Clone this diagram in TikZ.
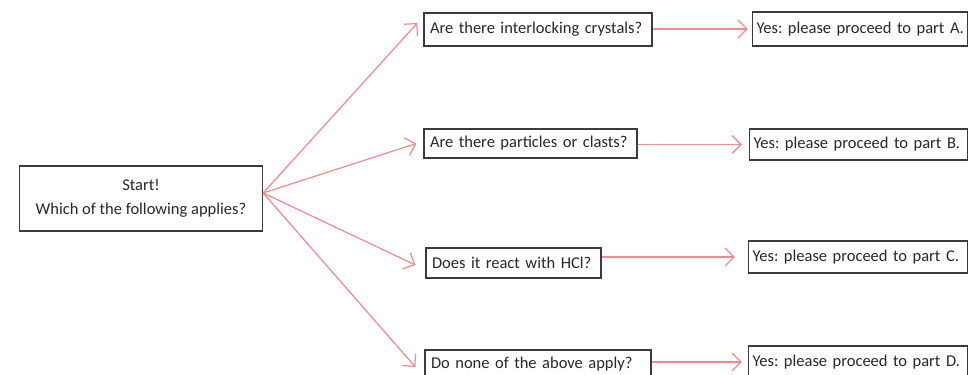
\documentclass[tikz,border=0pt]{standalone}
\usepackage{fontspec}
\setmainfont{Carlito}
\usetikzlibrary{arrows.meta,calc}
\definecolor{arrc}{RGB}{242,138,140}
\definecolor{boxc}{RGB}{60,60,60}
\definecolor{txtc}{RGB}{40,40,40}
\frenchspacing
\tikzset{
  box/.style={draw=boxc, line width=1.3pt, text=txtc, inner xsep=6pt, inner ysep=0pt,
    font=\fontsize{16.5}{19}\selectfont, align=left, minimum height=#1},
  box/.default=30pt,
  ybox/.style={box=#1, inner xsep=4pt},
  arr/.style={draw=arrc, line width=1.2pt, -{Straight Barb[length=9pt,width=18pt,line width=1.2pt]}}
}
\begin{document}
\begin{tikzpicture}[x=1pt,y=-1pt]
\useasboundingbox[fill=white] (0,0) rectangle (970,375);
\node[box=65pt, align=center, minimum width=243pt, font=\fontsize{16.5}{24}\selectfont] (start) at (141,198.5) {Start!\\Which of the following applies?};
\node[box=33pt, text width=216pt] (A) at (538,29.5) {\mbox{Are there interlocking crystals?}};
\node[box=29pt, text width=201pt] (B) at (530.5,143.5) {\mbox{Are there particles or clasts?}};
\node[box=30pt, text width=163pt] (C) at (513.5,263) {\mbox{Does it react with HCl?}};
\node[box=28pt, text width=214pt] (D) at (538,364) {\mbox{Do none of the above apply?}};
\node[ybox=34pt, text width=207pt] (yA) at (860,29) {\mbox{Yes: please proceed to part A.}};
\node[ybox=31pt, text width=210pt] (yB) at (858.5,144.5) {\mbox{Yes: please proceed to part B.}};
\node[ybox=32pt, text width=211pt] (yC) at (858,257) {\mbox{Yes: please proceed to part C.}};
\node[ybox=32pt, text width=211pt] (yD) at (858,362) {\mbox{Yes: please proceed to part D.}};
\coordinate (s) at ([yshift=5.5pt]start.east);
\draw[arr] (s) -- ($(A.west)+(-6,-6.5)$);
\draw[arr] (s) -- ($(B.west)+(-7,0)$);
\draw[arr] (s) -- ($(C.west)+(-10,2)$);
\draw[arr] (s) -- ($(D.west)+(-9,3)$);
\draw[arr, shorten >=4pt] (A.east |- yA.west) -- (yA.west);
\draw[arr, shorten >=7pt] (B.east |- yB.west) -- (yB.west);
\draw[arr, shorten >=13pt] (C.east |- yC.west) -- (yC.west);
\draw[arr, shorten >=6pt] (D.east |- yD.west) -- (yD.west);
\end{tikzpicture}
\end{document}
